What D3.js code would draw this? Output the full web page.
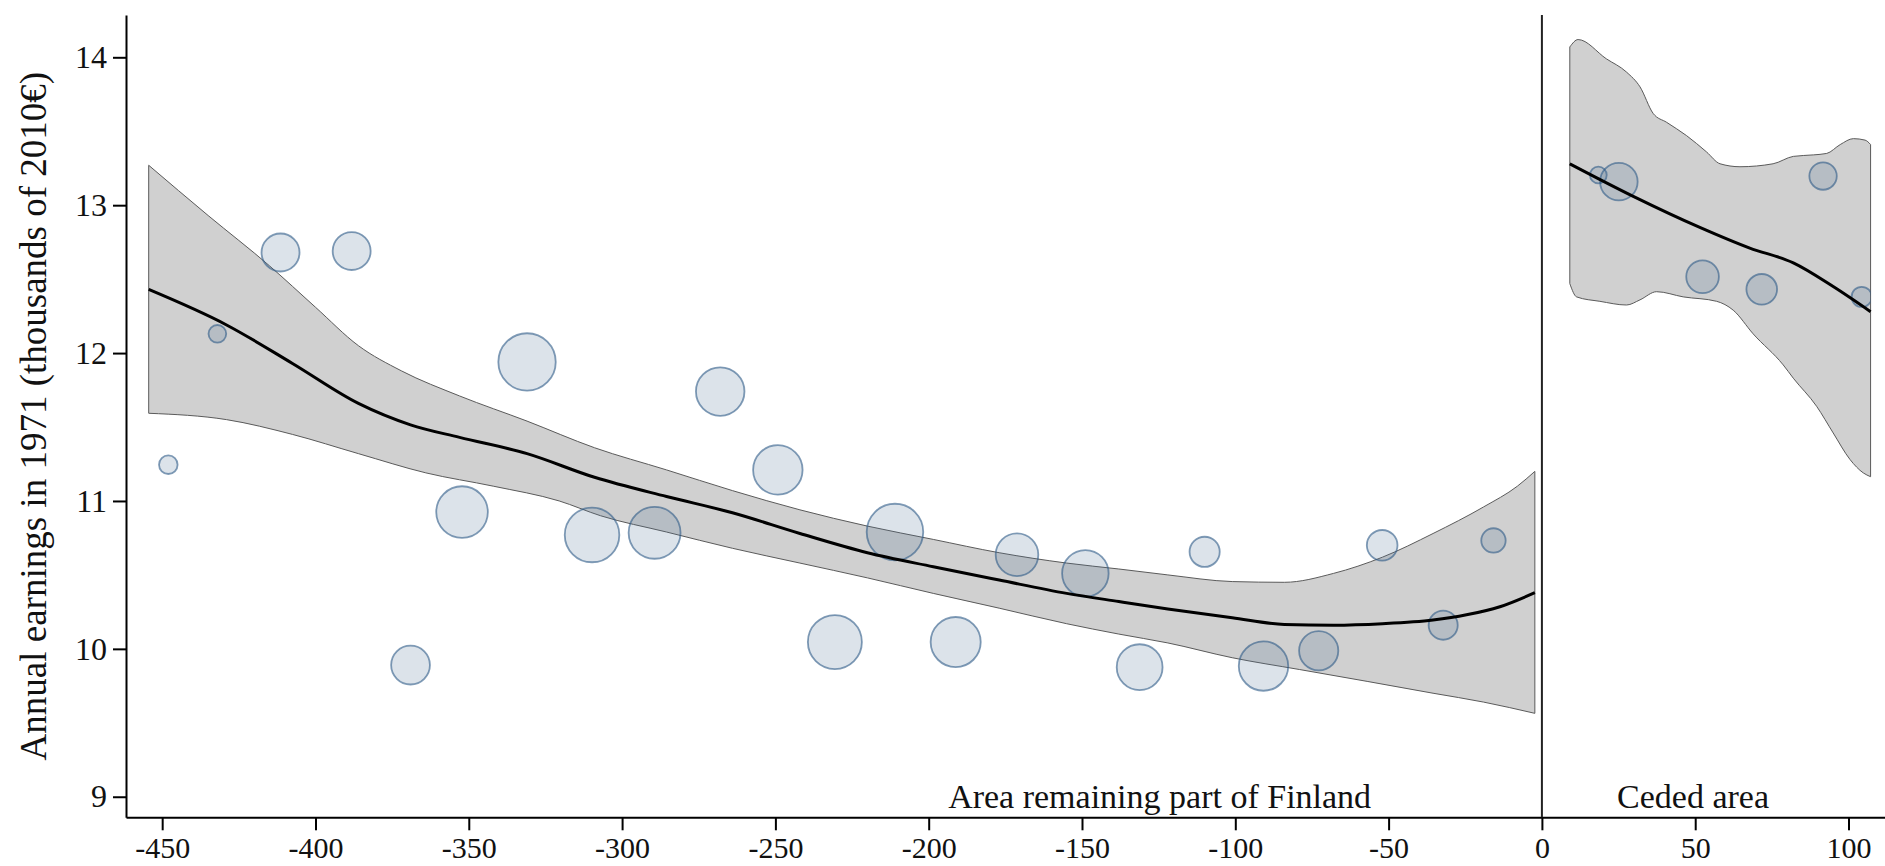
<!DOCTYPE html>
<html>
<head>
<meta charset="utf-8">
<script src="https://cdnjs.cloudflare.com/ajax/libs/d3/7.8.5/d3.min.js"></script>
<style>
  body { margin: 0; background: #fff; }
  svg { display: block; font-family: "Liberation Serif", "Times New Roman", serif; }
</style>
</head>
<body>
<svg></svg>
<script>
var width = 1885,
  height = 866;

// municipalities: distance to the border (km) and mean earnings, left = remained in Finland
var remainDist = [-448, -432, -411.4, -388.2, -369, -352.2, -331, -309.8, -289.4, -268, -249.2, -230.6,
  -211, -191.2, -171.2, -148.9, -131.2, -110, -90.8, -72.8, -52.1, -32.2, -15.8];
var remainEarn = [11.245, 12.13, 12.68, 12.69, 9.89, 10.925, 11.94, 10.77, 10.785, 11.74, 11.21, 10.046,
  10.79, 10.046, 10.636, 10.51, 9.876, 10.656, 9.884, 9.987, 10.70, 10.16, 10.733];
var remainWeight = [11, 10, 46, 46, 48, 85, 105, 95, 86, 75, 78, 93,
  102, 80, 58, 69, 67, 29, 78, 49, 30, 27, 19];

// ceded area
var cededDist = [18.4, 25.1, 52.4, 71.7, 91.7, 104.3];
var cededEarn = [13.204, 13.159, 12.516, 12.431, 13.197, 12.38];
var cededWeight = [9, 45, 34, 30, 24, 13];

// local fit and 95% band, remaining side
var fitRemain = [[-454.4, 12.43], [-429, 12.19], [-407.5, 11.93], [-386, 11.66], [-369, 11.515], [-353, 11.43],
  [-331, 11.32], [-309, 11.16], [-285.5, 11.03], [-264, 10.92], [-242, 10.78], [-220, 10.65], [-198.5, 10.555],
  [-177, 10.465], [-155, 10.375], [-138, 10.32], [-122, 10.27], [-101, 10.21], [-84, 10.165], [-68, 10.16],
  [-52, 10.17], [-35.5, 10.195], [-24.6, 10.23], [-13.7, 10.285], [-2.3, 10.38]];
var upperRemain = [[-454.4, 13.27], [-435, 12.93], [-415, 12.59], [-400, 12.31], [-386, 12.05], [-372, 11.88],
  [-353, 11.71], [-331, 11.54], [-309, 11.36], [-285.5, 11.21], [-264, 11.07], [-242, 10.94], [-220, 10.83],
  [-198.5, 10.74], [-177, 10.65], [-155, 10.58], [-138, 10.54], [-122, 10.50], [-101, 10.455], [-84, 10.45],
  [-68, 10.51], [-52, 10.62], [-35.5, 10.78], [-19, 10.96], [-8, 11.10], [-2.3, 11.20]];
var lowerRemain = [[-454.4, 11.593], [-429, 11.55], [-407.5, 11.45], [-386, 11.32], [-364, 11.19], [-342, 11.10],
  [-320.5, 11.0], [-307, 10.9], [-285.5, 10.79], [-264, 10.68], [-242, 10.58], [-220, 10.48], [-198.5, 10.375],
  [-177, 10.275], [-155, 10.17], [-138, 10.10], [-122, 10.04], [-101, 9.94], [-79, 9.86], [-57, 9.78],
  [-35.5, 9.70], [-19, 9.64], [-2.3, 9.564]];

// local fit and band, ceded side
var fitCeded = [[9.1, 13.28], [29.8, 13.06], [51.5, 12.85], [67.8, 12.71], [82, 12.61], [95, 12.45], [107.2, 12.28]];
var upperCeded = [[9.1, 14.07], [11.8, 14.12], [21, 13.99], [27.6, 13.90], [32, 13.80], [36.3, 13.62], [40.7, 13.56],
  [47.2, 13.47], [53.7, 13.36], [58.1, 13.28], [64.6, 13.26], [75.4, 13.28], [82, 13.33], [88.5, 13.34],
  [92.9, 13.35], [97.3, 13.41], [101.6, 13.45], [105.4, 13.44], [107.2, 13.41]];
var lowerCeded = [[9.1, 12.47], [11.3, 12.38], [18.9, 12.35], [27.6, 12.325], [32, 12.36], [37.4, 12.415],
  [46.1, 12.38], [57, 12.35], [62.4, 12.29], [68.9, 12.13], [78.7, 11.92], [82, 11.83], [89.6, 11.64],
  [95, 11.46], [100.5, 11.28], [104.8, 11.19], [107.2, 11.164]];

var xTicks = [-450, -400, -350, -300, -250, -200, -150, -100, -50, 0, 50, 100];
var yTicks = [9, 10, 11, 12, 13, 14];

var svg = d3.select("svg")
  .attr("width", width)
  .attr("height", height);

var x = d3.scaleLinear().domain([-461.8, 111.9]).range([126, 1885]);
var y = d3.scaleLinear().domain([8.861, 14.286]).range([817.3, 15]);
var r = d3.scaleSqrt().domain([0, 100]).range([0, 28]);

var line = d3.line()
  .x(d => x(d[0]))
  .y(d => y(d[1]))
  .curve(d3.curveMonotoneX);

// closed outline: upper edge left to right, lower edge back
function bandPath(upper, lower) {
  var top = line(upper);
  var bottom = line(lower.slice().reverse());
  return top + "L" + bottom.slice(1) + "Z";
}

svg.append("defs").append("clipPath")
  .attr("id", "plotclip")
  .append("rect")
  .attr("x", x(-461.8))
  .attr("y", y(14.286))
  .attr("width", x(107.2) - x(-461.8))
  .attr("height", y(8.861) - y(14.286));

var bands = svg.append("g");
[[upperRemain, lowerRemain], [upperCeded, lowerCeded]].forEach((b) => {
  bands.append("path")
    .attr("d", bandPath(b[0], b[1]))
    .style("fill", "#d0d0d0")
    .style("stroke", "#5a5a5a")
    .style("stroke-width", 1);
});

var points = [];
remainDist.forEach((d, i) => points.push({ dist: d, earn: remainEarn[i], w: remainWeight[i] }));
cededDist.forEach((d, i) => points.push({ dist: d, earn: cededEarn[i], w: cededWeight[i] }));

svg.append("g")
  .attr("clip-path", "url(#plotclip)")
  .selectAll("circle")
  .data(points)
  .enter().append("circle")
  .attr("cx", d => x(d.dist))
  .attr("cy", d => y(d.earn))
  .attr("r", d => r(d.w))
  .style("fill", "rgba(80,115,150,0.2)")
  .style("stroke", "rgba(45,90,135,0.6)")
  .style("stroke-width", 1.8);

[fitRemain, fitCeded].forEach((f) => {
  svg.append("path")
    .attr("d", line(f))
    .style("fill", "none")
    .style("stroke", "#000")
    .style("stroke-width", 3);
});

// axes, plain hyphen minus like the original
var plain = d => String(d);

var yAxis = svg.append("g")
  .attr("transform", "translate(" + x(-461.8) + ",0)")
  .call(d3.axisLeft(y).tickValues(yTicks).tickFormat(plain)
    .tickSize(13).tickSizeOuter(0).tickPadding(6));

var xAxis = svg.append("g")
  .attr("transform", "translate(0," + y(8.861) + ")")
  .call(d3.axisBottom(x).tickValues(xTicks).tickFormat(plain)
    .tickSize(13).tickSizeOuter(0).tickPadding(8));

[yAxis, xAxis].forEach((a) => {
  a.selectAll("path, line").style("stroke", "#000").style("stroke-width", 2);
  a.selectAll("text")
    .style("font-family", "'Liberation Serif', 'Times New Roman', serif")
    .style("font-size", "32px")
    .style("fill", "#111");
});
xAxis.selectAll("text").style("font-size", "30px").attr("dy", "0.66em");

// border between the two areas
svg.append("line")
  .attr("x1", x(0)).attr("x2", x(0))
  .attr("y1", y(14.286)).attr("y2", y(8.861))
  .style("stroke", "#222")
  .style("stroke-width", 2);

svg.append("text")
  .attr("transform", "translate(46," + (y(14.286) + y(8.861)) / 2 + ") rotate(-90)")
  .attr("text-anchor", "middle")
  .style("font-size", "37px")
  .style("fill", "#111")
  .text("Annual earnings in 1971 (thousands of 2010€)");

svg.append("text")
  .attr("x", x(-55.7))
  .attr("y", y(8.861) - 9)
  .attr("text-anchor", "end")
  .style("font-size", "34px")
  .style("fill", "#111")
  .text("Area remaining part of Finland");

svg.append("text")
  .attr("x", x(49.3))
  .attr("y", y(8.861) - 9)
  .attr("text-anchor", "middle")
  .style("font-size", "34px")
  .style("fill", "#111")
  .text("Ceded area");
</script>
</body>
</html>
